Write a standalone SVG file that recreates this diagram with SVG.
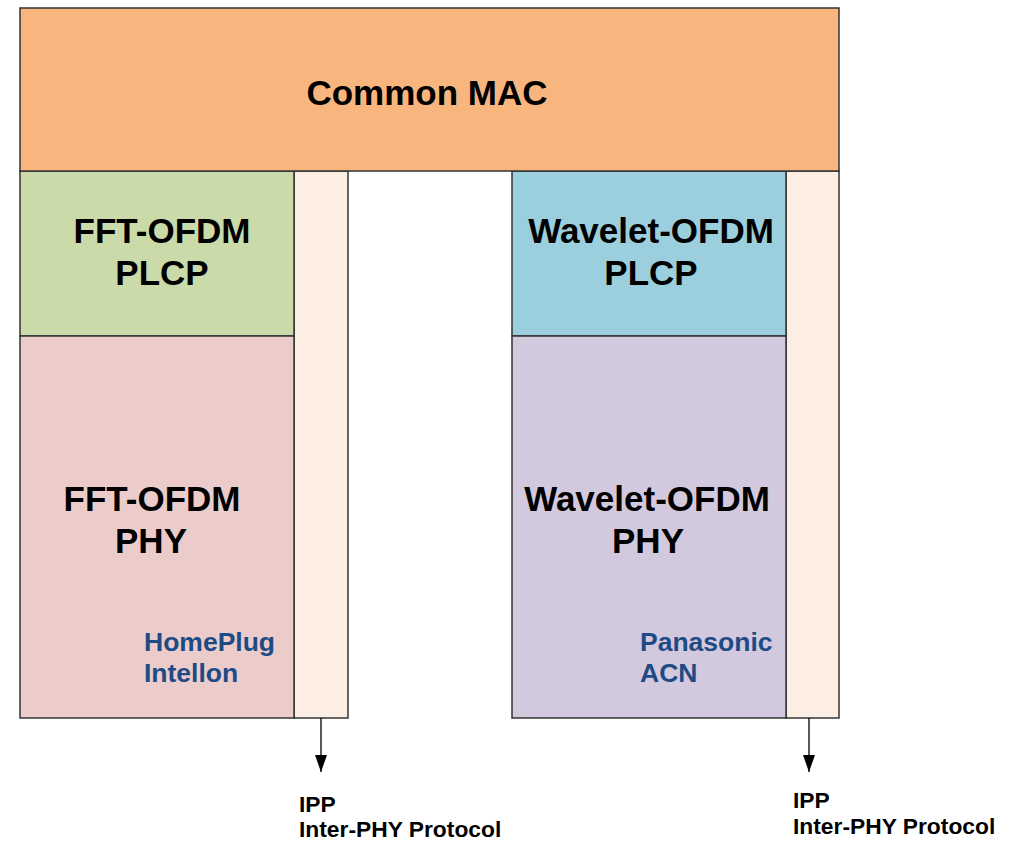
<svg xmlns="http://www.w3.org/2000/svg" width="1019" height="843" viewBox="0 0 1019 843">
<style>
.box{stroke:#333333;stroke-width:1.5}
.t{font-family:"Liberation Sans",Arial,sans-serif;font-weight:bold;fill:#000000}
.big{font-size:35px;text-anchor:middle}
.co{font-size:26.5px;fill:#1F4B85}
.ipp{font-size:22.8px}
.conn{stroke:#000000;stroke-width:1.3;fill:none}
</style>
<defs>
<marker id="arrd" viewBox="0 0 12 17" refX="6" refY="17" markerWidth="12" markerHeight="17" markerUnits="userSpaceOnUse" orient="0">
<path d="M0,0 L12,0 L6,17 Z" fill="#000000"/>
</marker>
</defs>
<rect width="1019" height="843" fill="#ffffff"/>
<g id="ipp-left-strip"><rect class="box" x="294" y="171" width="54" height="547" fill="#FDEEE3"/></g>
<g id="ipp-right-strip"><rect class="box" x="786" y="171" width="53" height="547" fill="#FDEEE3"/></g>
<g id="fft-plcp">
<rect class="box" x="20" y="171" width="274" height="165" fill="#CBDAA9"/>
<text class="t big" x="162" y="243">FFT-OFDM</text>
<text class="t big" x="162" y="285">PLCP</text>
</g>
<g id="fft-phy">
<rect class="box" x="20" y="336" width="274" height="382" fill="#ECCCCB"/>
<text class="t big" x="152" y="511">FFT-OFDM</text>
<text class="t big" x="151" y="553">PHY</text>
<text class="t co" x="144" y="651">HomePlug</text>
<text class="t co" x="144" y="682">Intellon</text>
</g>
<g id="wavelet-plcp">
<rect class="box" x="512" y="171" width="274" height="165" fill="#9BCFDD"/>
<text class="t big" x="651" y="243">Wavelet-OFDM</text>
<text class="t big" x="651" y="285">PLCP</text>
</g>
<g id="wavelet-phy">
<rect class="box" x="512" y="336" width="274" height="382" fill="#D3C9DE"/>
<text class="t big" x="647" y="511">Wavelet-OFDM</text>
<text class="t big" x="648" y="553">PHY</text>
<text class="t co" x="640" y="651">Panasonic</text>
<text class="t co" x="640" y="682">ACN</text>
</g>
<g id="common-mac">
<rect class="box" x="20" y="8" width="819" height="163" fill="#F8B67E"/>
<text class="t big" x="427" y="105">Common MAC</text>
</g>
<g id="connectors">
<line class="conn" x1="321" y1="718" x2="321" y2="772" marker-end="url(#arrd)"/>
<line class="conn" x1="809" y1="718" x2="809" y2="772" marker-end="url(#arrd)"/>
</g>
<g id="ipp-left-label">
<text class="t ipp" x="299" y="812">IPP</text>
<text class="t ipp" x="299" y="837">Inter-PHY Protocol</text>
</g>
<g id="ipp-right-label">
<text class="t ipp" x="793" y="808">IPP</text>
<text class="t ipp" x="793" y="834">Inter-PHY Protocol</text>
</g>
</svg>
